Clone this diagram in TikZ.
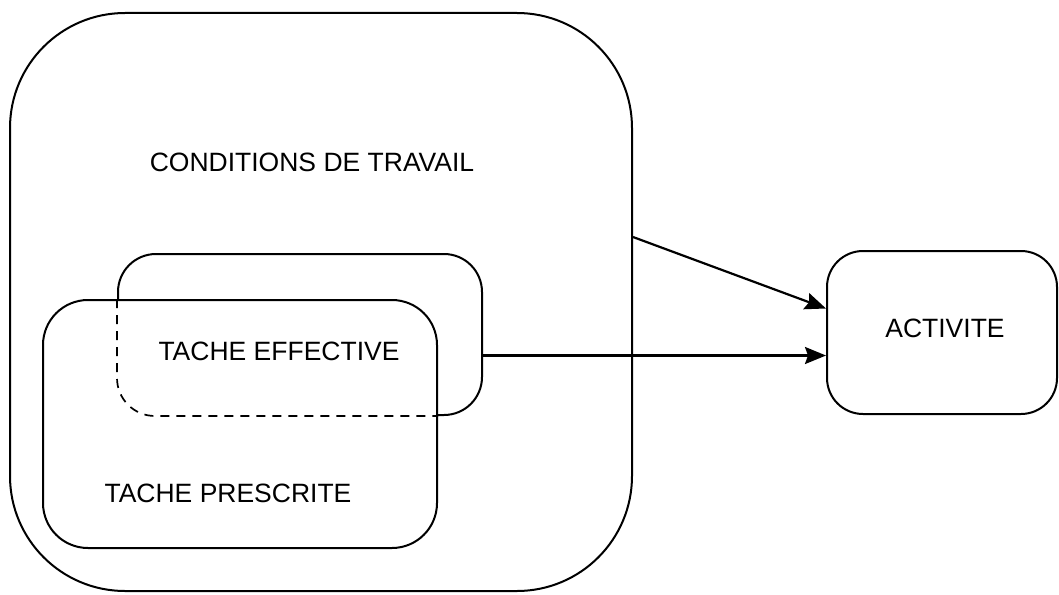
\documentclass[tikz,border=0pt]{standalone}
\usepackage{fontspec}
\setmainfont{Liberation Sans}
\usetikzlibrary{arrows.meta}
\begin{document}
\begin{tikzpicture}[x=1pt,y=-1pt,
  box/.style={draw, line width=2pt, rectangle, inner sep=0pt},
  lbl/.style={inner sep=0pt, font=\fontsize{26.5}{31}\selectfont},
  conn/.style={line width=2.2pt, -{Stealth[length=21pt,width=17pt,inset=3pt]}}]
\useasboundingbox (0,0) rectangle (1059,594);
\node[box, rounded corners=115pt, minimum width=622pt, minimum height=578pt] (cond) at (321,302) {};
\node[box, rounded corners=38pt, minimum width=364pt, minimum height=161pt] (eff) at (300,334.5) {};
\node[box, fill=white, rounded corners=45pt, minimum width=394pt, minimum height=248pt] (pre) at (240,424) {};
\draw[dashed, dash pattern=on 9pt off 7pt, line width=1.7pt, rounded corners=38pt]
  (eff.west |- pre.north) -- (eff.south west) -- (pre.east |- eff.south);
\node[box, rounded corners=36pt, minimum width=230pt, minimum height=163pt] (act) at (942,332.5) {};
\node[lbl] (tcond) at (312,162) {CONDITIONS DE TRAVAIL};
\node[lbl] (teff) at (279,351) {TACHE EFFECTIVE};
\node[lbl] (tpre) at (228,493) {TACHE PRESCRITE};
\node[lbl] (tact) at (945,328) {ACTIVITE};
\coordinate (a1) at ([yshift=65pt]cond.east);
\draw[conn] (a1) -- ([yshift=24pt]act.west);
\draw[conn] ([yshift=-21pt]eff.east) -- ([yshift=-21pt]eff.east -| act.west);
\end{tikzpicture}
\end{document}
